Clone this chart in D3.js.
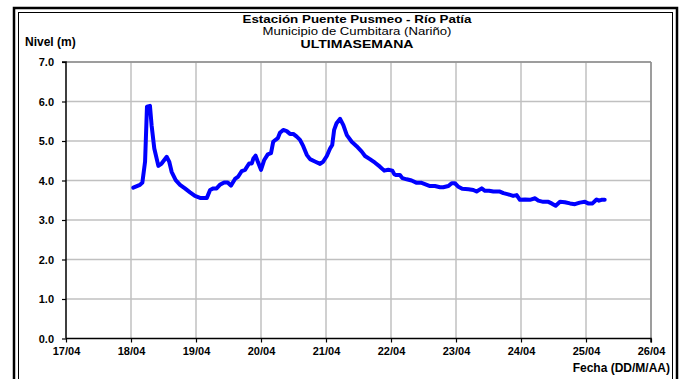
<!DOCTYPE html>
<html><head><meta charset="utf-8">
<script src="https://cdn.jsdelivr.net/npm/d3@7"></script>
<style>
html,body{margin:0;padding:0;background:#fff;}
svg{display:block;font-family:"Liberation Sans",Arial,sans-serif;}
</style></head>
<body>
<svg id="c" width="692" height="379"></svg>
<script>
// Hours since 18/04 00:00
const hours = [0.85,3.3,4.2,5.2,5.9,7.0,7.6,8.6,10.1,11.3,13.2,14.1,15.0,16.5,18.1,19.9,21.8,23.6,25.5,28.0,29.2,30.4,31.6,32.8,34.4,35.7,36.9,38.4,39.6,40.9,42.1,43.6,44.6,45.2,46.0,46.8,48.0,49.2,50.5,51.7,52.5,53.4,54.2,55.0,56.2,57.5,58.7,59.9,61.2,62.4,63.6,64.9,66.1,67.9,69.8,71.0,72.3,73.5,74.3,75.0,75.9,77.2,78.4,79.7,81.5,83.3,85.2,86.4,88.2,90.1,91.9,93.5,95.0,96.5,97.2,97.8,99.3,100.2,101.8,103.6,105.5,107.3,108.5,110.4,112.2,114.1,115.3,117.2,118.4,119.6,120.9,122.3,124.6,126.4,127.6,129.5,130.7,132.2,133.8,136.2,137.5,139.3,141.1,142.4,143.6,145.5,147.3,149.2,150.4,152.2,154.1,155.3,156.8,158.4,160.2,162.1,163.9,165.7,167.6,168.8,170.4,171.9,172.8,173.7,174.9];
const nivel = [3.82,3.89,3.95,4.48,5.87,5.89,5.40,4.81,4.37,4.43,4.60,4.48,4.22,4.01,3.89,3.80,3.70,3.61,3.56,3.56,3.76,3.80,3.80,3.89,3.95,3.95,3.87,4.04,4.10,4.24,4.27,4.43,4.43,4.56,4.63,4.48,4.27,4.52,4.66,4.69,4.98,5.03,5.07,5.21,5.28,5.25,5.18,5.18,5.11,5.03,4.87,4.65,4.54,4.48,4.42,4.48,4.62,4.81,4.90,5.28,5.45,5.56,5.40,5.15,4.98,4.87,4.73,4.62,4.54,4.45,4.35,4.25,4.27,4.25,4.16,4.14,4.14,4.06,4.03,4.00,3.94,3.94,3.91,3.86,3.86,3.83,3.83,3.86,3.93,3.93,3.84,3.79,3.78,3.76,3.72,3.80,3.74,3.74,3.72,3.72,3.68,3.65,3.61,3.63,3.51,3.52,3.51,3.55,3.49,3.46,3.46,3.42,3.36,3.46,3.45,3.42,3.40,3.44,3.46,3.42,3.42,3.52,3.49,3.51,3.51];
const xTickLabels = ["17/04","18/04","19/04","20/04","21/04","22/04","23/04","24/04","25/04","26/04"];
const yTicks = [0,1,2,3,4,5,6,7];

const svg = d3.select("#c");
const L=66, R=651, T=62, B=338.5;
const x = d3.scaleLinear().domain([0, 9]).range([L, R]);   // days since 17/04
const y = d3.scaleLinear().domain([0, 7]).range([B, T]);

// frame
svg.append("rect").attr("x",14).attr("y",8).attr("width",663).attr("height",400)
  .attr("fill","none").attr("stroke","#000").attr("stroke-width",2.5);
svg.append("rect").attr("x",18.5).attr("y",12.5).attr("width",654).attr("height",400)
  .attr("fill","none").attr("stroke","#000").attr("stroke-width",1);

// grid
const g = svg.append("g");
g.selectAll(".hg").data(yTicks.slice(1)).enter().append("line")
  .attr("x1",L).attr("x2",R).attr("y1",d=>y(d)).attr("y2",d=>y(d))
  .attr("stroke","#c0c0c0").attr("stroke-width",1.5);
g.selectAll(".vg").data(d3.range(1,10)).enter().append("line")
  .attr("x1",d=>x(d)).attr("x2",d=>x(d)).attr("y1",T).attr("y2",B)
  .attr("stroke","#c0c0c0").attr("stroke-width",1.5);
g.append("line").attr("x1",R).attr("x2",R).attr("y1",T).attr("y2",B).attr("stroke","#8c8c8c").attr("stroke-width",1.5);
g.append("line").attr("x1",L).attr("x2",R).attr("y1",T).attr("y2",T).attr("stroke","#8c8c8c").attr("stroke-width",1.5);

// axes
const yAxis = d3.axisLeft(y).tickValues(yTicks).tickFormat(d=>d.toFixed(1)).tickSize(4).tickPadding(8);
const ya = svg.append("g").attr("transform",`translate(${L},0)`).call(yAxis);
ya.select(".domain").attr("stroke","#000").attr("stroke-width",1.5).attr("d",`M-4,${T}H0V${B}`);
ya.selectAll(".tick line").attr("stroke","#000").attr("stroke-width",1.2);
ya.selectAll("text").attr("font-size","11px").attr("font-weight","bold").attr("fill","#000")
  .attr("font-family","'Liberation Sans',Arial,sans-serif");

const xAxis = d3.axisBottom(x).tickValues(d3.range(0,10)).tickFormat((d,i)=>xTickLabels[i]).tickSize(4).tickPadding(5);
const xa = svg.append("g").attr("transform",`translate(0,${B})`).call(xAxis);
xa.select(".domain").attr("stroke","#000").attr("stroke-width",1.5).attr("d",`M${L},0H${R}V4`);
xa.selectAll(".tick line").attr("stroke","#000").attr("stroke-width",1.2);
xa.selectAll("text").attr("font-size","11px").attr("font-weight","bold").attr("fill","#000")
  .attr("font-family","'Liberation Sans',Arial,sans-serif");

// line
const data = hours.map((h,i)=>({d:1+h/24, v:nivel[i]}));
svg.append("path").datum(data)
  .attr("d", d3.line().x(p=>x(p.d)).y(p=>y(p.v)))
  .attr("fill","none").attr("stroke","#0000ff").attr("stroke-width",4)
  .attr("stroke-linejoin","round").attr("stroke-linecap","round");

// titles
const cx = 357;
svg.append("text").attr("x",cx).attr("y",22.5).attr("text-anchor","middle")
  .attr("font-size","11.5px").attr("font-weight","bold")
  .attr("textLength",229).attr("lengthAdjust","spacingAndGlyphs")
  .text("Estación Puente Pusmeo - Río Patía");
svg.append("text").attr("x",cx).attr("y",35).attr("text-anchor","middle")
  .attr("font-size","11.5px")
  .attr("textLength",189).attr("lengthAdjust","spacingAndGlyphs")
  .text("Municipio de Cumbitara (Nariño)");
svg.append("text").attr("x",cx).attr("y",47.5).attr("text-anchor","middle")
  .attr("font-size","11.5px").attr("font-weight","bold")
  .attr("textLength",113).attr("lengthAdjust","spacingAndGlyphs")
  .text("ULTIMASEMANA");
svg.append("text").attr("x",25).attr("y",45.5)
  .attr("font-size","12px").attr("font-weight","bold")
  .text("Nivel (m)");
svg.append("text").attr("x",670).attr("y",372).attr("text-anchor","end")
  .attr("font-size","12px").attr("font-weight","bold")
  .text("Fecha (DD/M/AA)");
</script>
</body></html>
